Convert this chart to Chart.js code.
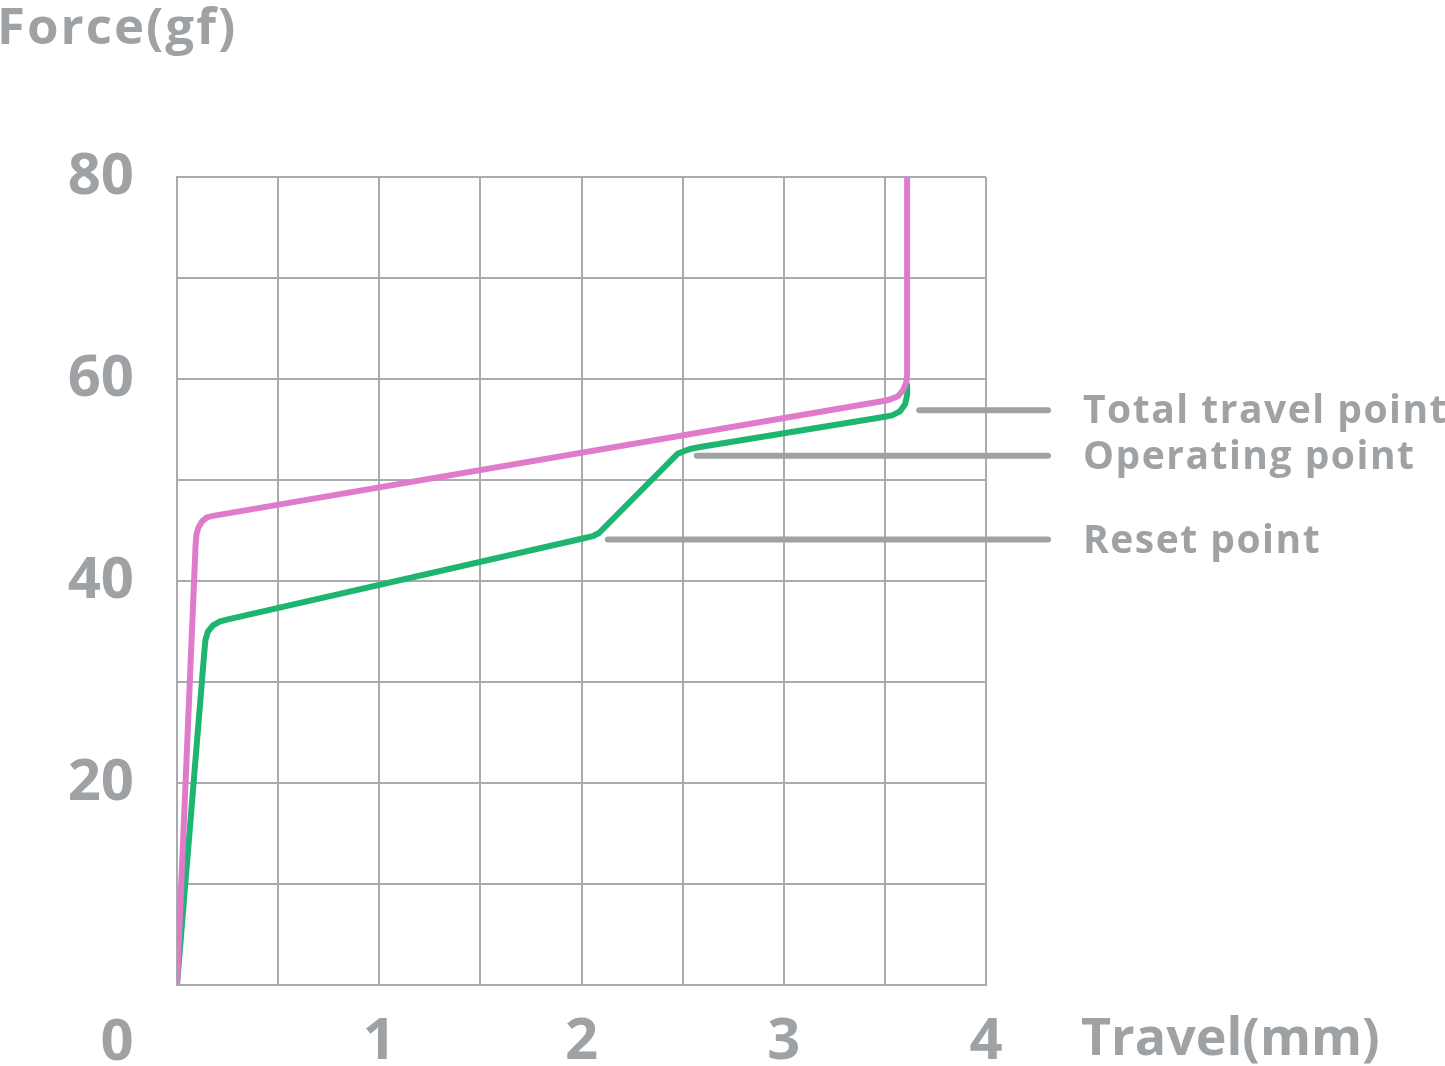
<!DOCTYPE html>
<html>
<head>
<meta charset="utf-8">
<script src="https://cdn.jsdelivr.net/npm/chart.js@4.4.1/dist/chart.umd.min.js"></script>
<style>
html,body{margin:0;padding:0;background:#ffffff;}
#wrap{width:1445px;height:1066px;position:relative;}
</style>
</head>
<body>
<div id="wrap"><canvas id="c" width="1445" height="1066"></canvas></div>
<script>
// ---- data ----
const totalTravelX = [0, 0.092, 0.096, 0.106, 0.124, 0.148, 0.178, 3.50, 3.525, 3.565, 3.59, 3.605, 3.61, 3.61];
const totalTravelY = [0, 43.6, 44.6, 45.3, 45.9, 46.3, 46.45, 57.85, 57.97, 58.3, 58.9, 59.6, 60.4, 80.0];
const operatingX = [0, 0.136, 0.141, 0.153, 0.178, 0.213, 0.252, 2.017, 2.057, 2.087, 2.111, 2.476, 2.50, 2.536, 2.586, 3.50, 3.535, 3.575, 3.60, 3.61, 3.61];
const operatingY = [0, 33.2, 34.2, 35.0, 35.6, 36.0, 36.2, 44.26, 44.45, 44.75, 45.25, 52.6, 52.8, 53.07, 53.27, 56.27, 56.4, 56.8, 57.5, 58.4, 59.4];
const annotationLabels = ["Total travel point", "Operating point", "Reset point"];
const annotationValues = [56.9, 52.4, 44.1];
const annotationStartX = [3.67, 2.57, 2.13];
const xTickLabels = ["1", "2", "3", "4"];
const yTickLabels = ["20", "40", "60", "80"];
const cornerLabel = "0";
const yTitle = "Force(gf)";
const xTitle = "Travel(mm)";

const GRAY = '#9fa2a5';
const GRID = '#a9acaf';
const FONT = '"Open Sans", "Noto Sans", sans-serif';

function pts(xs, ys){ return xs.map((x,i)=>({x:x, y:ys[i]})); }

const extras = {
  id: 'extras',
  afterDatasetsDraw(chart){
    const ctx = chart.ctx;
    const xs = chart.scales.x, ys = chart.scales.y;
    ctx.save();
    // annotation leader lines
    ctx.strokeStyle = GRAY;
    ctx.lineWidth = 6;
    ctx.lineCap = 'round';
    const endPx = 1048;
    annotationLabels.forEach((lab,i)=>{
      const py = ys.getPixelForValue(annotationValues[i]);
      const sx = xs.getPixelForValue(annotationStartX[i]);
      ctx.beginPath();
      ctx.moveTo(sx, py);
      ctx.lineTo(endPx, py);
      ctx.stroke();
      ctx.fillStyle = GRAY;
      ctx.font = '700 39px ' + FONT;
      if ('letterSpacing' in ctx) ctx.letterSpacing = '1.5px';
      ctx.textAlign = 'left';
      ctx.textBaseline = 'alphabetic';
      ctx.fillText(lab, 1083, py + 13);
    });
    if ('letterSpacing' in ctx) ctx.letterSpacing = '0px';
    // titles and corner label
    ctx.fillStyle = GRAY;
    ctx.font = '700 51px ' + FONT;
    ctx.textAlign = 'left';
    ctx.textBaseline = 'alphabetic';
    if ('letterSpacing' in ctx) ctx.letterSpacing = '2px';
    ctx.fillText(yTitle, -3, 44);
    if ('letterSpacing' in ctx) ctx.letterSpacing = '0px';
    ctx.font = '700 52px ' + FONT;
    ctx.fillText(xTitle, 1081, 1055);
    ctx.font = '700 58px ' + FONT;
    ctx.textAlign = 'center';
    ctx.fillText(cornerLabel, 117, 1060);
    ctx.restore();
  }
};

new Chart(document.getElementById('c'), {
  type: 'scatter',
  data: {
    datasets: [
      { label: 'Total travel', data: pts(totalTravelX, totalTravelY), showLine: true,
        borderColor: '#e07acb', borderWidth: 6, pointRadius: 0, tension: 0,
        borderCapStyle: 'round', borderJoinStyle: 'round', order: 1 },
      { label: 'Operating', data: pts(operatingX, operatingY), showLine: true,
        borderColor: '#1db56f', borderWidth: 6, pointRadius: 0, tension: 0,
        borderCapStyle: 'round', borderJoinStyle: 'round', order: 2 }
    ]
  },
  options: {
    responsive: false,
    animation: false,
    devicePixelRatio: 1,
    layout: { padding: { top: 177, right: 459, left: 0, bottom: 0 } },
    plugins: { legend: { display: false }, tooltip: { enabled: false } },
    scales: {
      x: {
        type: 'linear', min: 0, max: 4,
        afterFit(s){ s.height = 81; },
        grid: { color: GRID, lineWidth: 2, drawTicks: false },
        border: { color: GRID, width: 2 },
        ticks: {
          stepSize: 0.5, padding: 23, color: GRAY,
          font: { family: FONT, size: 58, weight: '700' },
          maxRotation: 0, autoSkip: false,
          callback(v){ const s = String(v); return xTickLabels.includes(s) ? s : ''; }
        }
      },
      y: {
        type: 'linear', min: 0, max: 80,
        afterFit(s){ s.width = 177; },
        grid: { color: GRID, lineWidth: 2, drawTicks: false },
        border: { color: GRID, width: 2 },
        ticks: {
          stepSize: 10, padding: 43, color: GRAY,
          font: { family: FONT, size: 58, weight: '700' },
          autoSkip: false,
          callback(v){ const s = String(v); return yTickLabels.includes(s) ? s : ''; }
        }
      }
    }
  },
  plugins: [extras]
});
</script>
</body>
</html>
